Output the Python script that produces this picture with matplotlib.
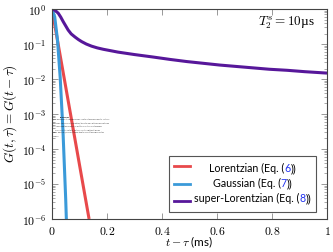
import matplotlib
matplotlib.use('Agg')
import matplotlib.pyplot as plt
from matplotlib.offsetbox import (AnchoredOffsetbox, DrawingArea, HPacker,
                                  TextArea, VPacker)
from matplotlib.lines import Line2D

plt.rcParams['font.family'] = ['Lato', 'DejaVu Sans']
plt.rcParams['mathtext.fontset'] = 'cm'

# --- data (t - tau in ms, G on log scale) ---
t_lor = [0.0, 0.135]
g_lor = [1.0, 1e-6]

t_gau = [0.0, 0.01, 0.02, 0.03, 0.04, 0.05, 0.054]
g_gau = [1.0, 0.6, 0.135, 0.011, 3.4e-4, 3.7e-6, 4e-7]

t_sl = [0.0, 0.005, 0.012, 0.023, 0.032, 0.041, 0.05, 0.059, 0.07, 0.084,
        0.096, 0.108, 0.125, 0.144, 0.165, 0.187, 0.24, 0.3, 0.367, 0.43,
        0.49, 0.55, 0.61, 0.67, 0.73, 0.79, 0.855, 0.92, 1.0]
logg_sl = [0.0, -0.01, -0.04, -0.12, -0.23, -0.36, -0.48, -0.6, -0.71, -0.8,
           -0.87, -0.93, -1.0, -1.06, -1.11, -1.15, -1.23, -1.3, -1.37, -1.44,
           -1.5, -1.55, -1.6, -1.64, -1.68, -1.72, -1.75, -1.79, -1.83]
g_sl = [10 ** v for v in logg_sl]

names = ['Lorentzian', 'Gaussian', 'super-Lorentzian']
eqs = ['6', '7', '8']
colors = ['#E8494B', '#3B9AD9', '#57179A']

x_ticks = [0, 0.2, 0.4, 0.6, 0.8, 1.0]
x_ticklabels = ['$0$', '$0.2$', '$0.4$', '$0.6$', '$0.8$', '$1$']

fig = plt.figure(figsize=(3.33, 2.52), dpi=100)
ax = fig.add_axes([0.156, 0.131, 0.826, 0.833])

lw = 2.2
ax.plot(t_lor, g_lor, color=colors[0], lw=lw, solid_capstyle='butt')
ax.plot(t_gau, g_gau, color=colors[1], lw=lw, solid_capstyle='butt')
ax.plot(t_sl, g_sl, color=colors[2], lw=lw, solid_capstyle='butt')

ax.set_yscale('log')
ax.set_xlim(0, 1)
ax.set_ylim(1e-6, 1)
ax.set_xticks(x_ticks)
ax.set_xticklabels(x_ticklabels)
ax.set_yticks([10.0 ** k for k in range(-6, 1)])
ax.set_yticklabels([r'$10^{%d}$' % k for k in range(-6, 1)])
ax.tick_params(which='both', direction='in', top=True, right=True,
               color='#888888', labelsize=8.5, pad=4)
ax.tick_params(which='major', length=4, width=0.6)
ax.tick_params(which='minor', length=2, width=0.5)
for s in ax.spines.values():
    s.set_color('#444444')
    s.set_linewidth(0.8)

ax.set_xlabel(r'$t-\tau$ (ms)', fontsize=8.5)
ax.xaxis.set_label_coords(0.5, -0.11)
ax.xaxis.label.set_va('center')
ax.set_ylabel(r'$G(t,\tau)=G(t-\tau)$', fontsize=9.5)
ax.yaxis.set_label_coords(-0.153, 0.5)
ax.yaxis.label.set_va('center')

ax.text(0.957, 0.935, r'$T_2^s = 10$µs', transform=ax.transAxes,
        ha='right', va='center', fontsize=9.5,
        family=['Liberation Serif', 'DejaVu Serif'])

# legend with blue equation numbers
fs_leg = 7.7
rows = []
for name, eq, c in zip(names, eqs, colors):
    da = DrawingArea(12, 8, 0, 0)
    da.add_artist(Line2D([0, 12], [4, 4], color=c, lw=2.0))
    parts = [TextArea(name + ' (Eq. (', textprops=dict(fontsize=fs_leg)),
             TextArea(eq, textprops=dict(fontsize=fs_leg, color='#2233EE')),
             TextArea('))', textprops=dict(fontsize=fs_leg))]
    txt = HPacker(children=parts, pad=0, sep=0)
    rows.append((da, txt))
text_col = VPacker(children=[r[1] for r in rows], align='center', pad=0, sep=2.8)
hand_col = VPacker(children=[r[0] for r in rows], align='left', pad=0, sep=4.6)
box = HPacker(children=[hand_col, text_col], align='center', pad=0, sep=2.5)
anch = AnchoredOffsetbox(loc='lower right', child=box, pad=0.35,
                         borderpad=0.0, frameon=True,
                         bbox_to_anchor=(0.96, 0.035),
                         bbox_transform=ax.transAxes)
anch.patch.set_edgecolor('#555555')
anch.patch.set_linewidth(0.8)
ax.add_artist(anch)

# stray tiny text block over the plot
tiny = ['Remarque',
        'Qiqi was unable to reproduce some results of the paper exactly. As there',
        'was some unpublished information, the data were obtained by digitizing',
        'the figure and the formulas as written in section 3 of the paper.',
        '    If you read the footnote, section, and the caption it will go',
        'away. Because Qiqi did not know how to correct the paper for the',
        'changes']
for i, line in enumerate(tiny):
    fig.text(0.158 if i else 0.18, 1 - (117 + i * 3.2) / 252, line,
             fontsize=1.05 if i else 1.3, color='#222222', va='center',
             family='DejaVu Serif', fontweight='bold' if i == 0 else 'normal')

fig.savefig('out.png', dpi=100)
